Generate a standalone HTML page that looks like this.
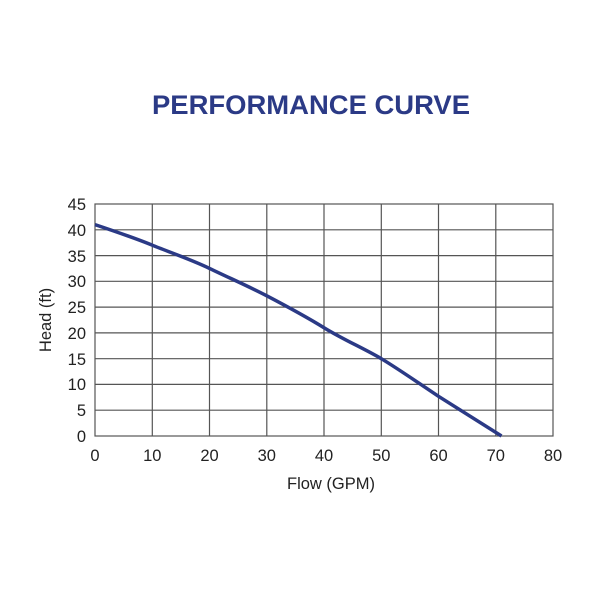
<!DOCTYPE html>
<html><head><style>body{margin:0;background:#fff}</style></head><body>
<svg width="600" height="600" xmlns="http://www.w3.org/2000/svg" font-family="Liberation Sans, Arial, sans-serif">
<rect width="600" height="600" fill="#fff"/>
<text x="311" y="114" text-anchor="middle" font-size="27" font-weight="bold" fill="#2b3a86" textLength="318" lengthAdjust="spacingAndGlyphs">PERFORMANCE CURVE</text>
<g stroke="#555" stroke-width="1.2" fill="none">
<rect x="95" y="204" width="458" height="232"/>
<path d="M152.3 204V436M209.5 204V436M266.8 204V436M324 204V436M381.3 204V436M438.5 204V436M495.8 204V436"/>
<path d="M95 229.8H553M95 255.6H553M95 281.3H553M95 307.1H553M95 332.9H553M95 358.7H553M95 384.4H553M95 410.2H553"/>
</g>
<path d="M95 224.6 C120 233,140 240,152.3 245.2 S190 259,209.5 268.4 S250 287,266.8 295.8 S305 316,324 327.7 S365 349,381.3 358.7 S420 384,438.5 396.3 L501.5 436" fill="none" stroke="#2b3a86" stroke-width="3.5"/>
<g font-size="16.5" fill="#222" text-anchor="end">
<text x="86" y="210">45</text><text x="86" y="236">40</text><text x="86" y="262">35</text><text x="86" y="287">30</text><text x="86" y="313">25</text><text x="86" y="339">20</text><text x="86" y="365">15</text><text x="86" y="390">10</text><text x="86" y="416">5</text><text x="86" y="442">0</text>
</g>
<g font-size="16.5" fill="#222" text-anchor="middle">
<text x="95" y="461">0</text><text x="152.3" y="461">10</text><text x="209.5" y="461">20</text><text x="266.8" y="461">30</text><text x="324" y="461">40</text><text x="381.3" y="461">50</text><text x="438.5" y="461">60</text><text x="495.8" y="461">70</text><text x="553" y="461">80</text>
<text x="331" y="489">Flow (GPM)</text>
<text transform="translate(51,320) rotate(-90)">Head (ft)</text>
</g>
</svg>
</body></html>
